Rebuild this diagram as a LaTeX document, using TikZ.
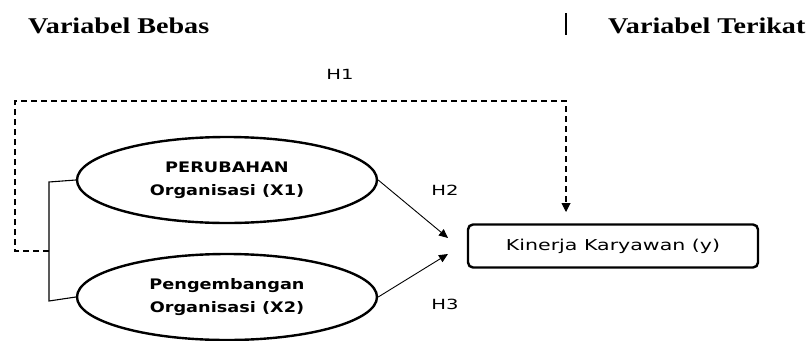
\documentclass[tikz,border=0pt]{standalone}
\usepackage{fontspec}
\setmainfont{DejaVu Sans}
\newfontfamily\titlefont[FakeStretch=1.25]{Liberation Serif}
\newfontfamily\ellfont[FakeStretch=1.22]{DejaVu Sans}
\newfontfamily\boxfont[FakeStretch=1.37]{DejaVu Sans}
\newfontfamily\hfont[FakeStretch=1.4]{DejaVu Sans}
\usetikzlibrary{shapes.geometric,arrows.meta}
\begin{document}
\begin{tikzpicture}[x=1pt,y=-1pt,
  titletext/.style={font=\titlefont\bfseries\fontsize{22.5}{24}\selectfont, anchor=base west, inner sep=0},
  var/.style={ellipse, draw, line width=2.4pt, minimum width=300pt, minimum height=86pt, inner sep=0, align=center, font=\ellfont\bfseries\fontsize{14.5}{23}\selectfont},
  outbox/.style={rectangle, rounded corners=5pt, draw, line width=2.4pt, minimum width=290pt, minimum height=43pt, font=\boxfont\fontsize{15}{18}\selectfont},
  hlabel/.style={font=\hfont\fontsize{14}{16}\selectfont, inner sep=0},
  arr/.style={-{Triangle[length=9pt,width=8pt]}, line width=0.9pt},
  dashline/.style={dashed, dash pattern=on 6pt off 4pt, line width=1.1pt}
]
\useasboundingbox (0,0) rectangle (810,340);
\node[titletext] (tb) at (28,33) {Variabel Bebas};
\node[titletext] (tt) at (608,33) {Variabel Terikat};
\draw[line width=1.6pt] (566,13) coordinate (sepa) -- (566,35) coordinate (sepb);

\node[var] (x1) at (227,180) {PERUBAHAN\\Organisasi (X1)};
\node[var] (x2) at (227,297) {Pengembangan\\Organisasi (X2)};
\node[outbox] (y) at (613,246) {Kinerja Karyawan (y)};

\node[hlabel] (h1) at (340,74) {H1};
\node[hlabel] (h2) at (445,190) {H2};
\node[hlabel] (h3) at (445,304) {H3};

\coordinate (bt) at (49,182);
\coordinate (bb) at (49,301);
\coordinate (bm) at (49,251);
\draw[line width=1.1pt] (x1.west) -- (bt) -- (bb) -- (x2.west);

\coordinate (d1) at (15,251);
\coordinate (d2) at (15,101);
\coordinate (d3) at (566,101);
\draw[dashline] (bm) -- (d1) -- (d2) -- (d3) -- (566,204);
\draw[-{Triangle[length=9pt,width=9pt]}, line width=1pt] (566,204) -- (566,212) coordinate (dtip);

\coordinate (t2) at (448,238);
\coordinate (t3) at (448,254);
\draw[arr] (x1.east) -- (t2);
\draw[arr] (x2.east) -- (t3);
\end{tikzpicture}
\end{document}
